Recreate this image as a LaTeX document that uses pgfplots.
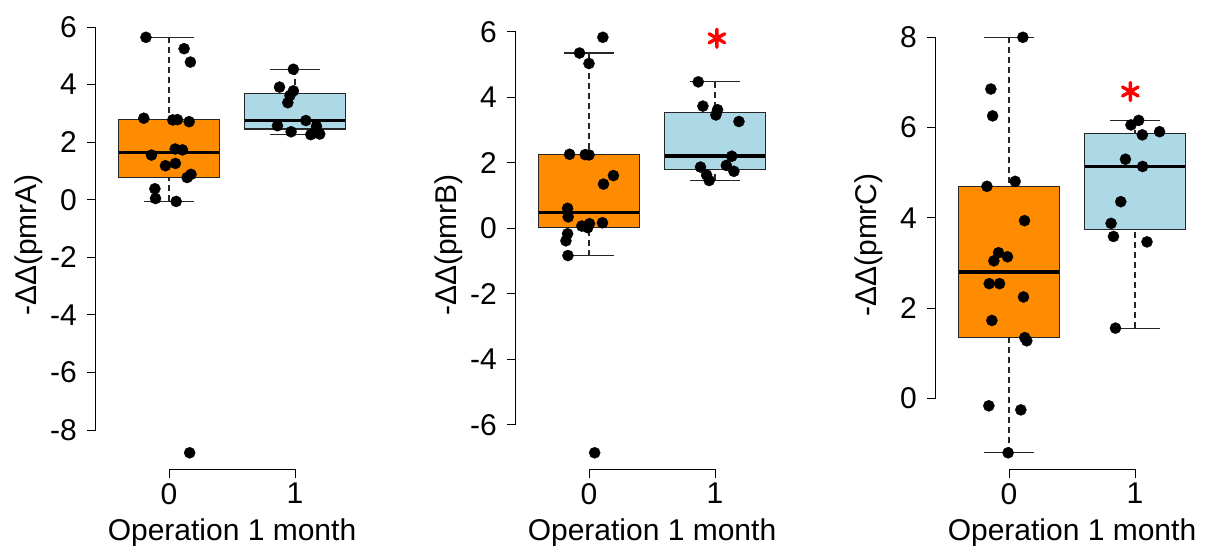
\documentclass[border=0pt]{standalone}
\usepackage{pgfplots}
\pgfplotsset{compat=1.18}
\usepgfplotslibrary{statistics}
\usepackage{fontspec}
\setmainfont{Liberation Sans}

\definecolor{boxorange}{HTML}{FF8C00}
\definecolor{boxblue}{HTML}{ADD8E6}
\definecolor{edge}{HTML}{262626}

\tikzset{
  axisline/.style={black, line width=0.9pt},
  whiskerline/.style={edge, line width=1.1pt},
}

\pgfplotsset{
  rpanel/.style={
    scale only axis, width=272.2pt, height=448.7pt, anchor=south west,
    xmin=-0.58, xmax=1.58,
    axis x line*=bottom, axis y line*=left,
    axis line style={draw=none},
    tick align=outside, major tick length=9pt,
    tick style={black, line width=0.9pt},
    xtick={0,1}, xticklabels={0,1},
    font=\fontsize{30}{36}\selectfont,
    xticklabel style={anchor=north, inner sep=0pt, yshift=-4.5pt},
    yticklabel style={anchor=east, inner sep=0pt, xshift=-10pt},
    xlabel={Operation 1 month},
    xlabel style={at={([yshift=-70.6pt]axis description cs:0.5,0)}, anchor=base, inner sep=0pt},
    ylabel style={at={([xshift=-67.5pt]axis description cs:0,0.5)}, anchor=center, inner sep=0pt},
    clip=false,
    boxplot/draw direction=y,
    boxplot/box extend=0.8,
    boxplot/whisker extend=0.4,
    boxplot/every box/.style={draw=edge, line width=1.1pt},
    boxplot/every median/.style={black, line width=3.6pt},
    boxplot/draw/lower whisker/.code={%
      \draw[whiskerline, dash pattern=on 6pt off 4pt]
        (boxplot box cs:\pgfplotsboxplotvalue{lower whisker},0.5) --
        (boxplot box cs:\pgfplotsboxplotvalue{lower quartile},0.5);
      \draw[whiskerline]
        (boxplot whisker cs:\pgfplotsboxplotvalue{lower whisker},0) --
        (boxplot whisker cs:\pgfplotsboxplotvalue{lower whisker},1);
    },
    boxplot/draw/upper whisker/.code={%
      \draw[whiskerline, dash pattern=on 6pt off 4pt]
        (boxplot box cs:\pgfplotsboxplotvalue{upper whisker},0.5) --
        (boxplot box cs:\pgfplotsboxplotvalue{upper quartile},0.5);
      \draw[whiskerline]
        (boxplot whisker cs:\pgfplotsboxplotvalue{upper whisker},0) --
        (boxplot whisker cs:\pgfplotsboxplotvalue{upper whisker},1);
    },
  },
  dots/.style={only marks, mark=*, mark size=5.6pt,
    mark options={fill=black, draw=black, line width=0.3pt}},
  signif/.style={only marks, mark=asterisk, mark size=9pt, red,
    mark options={line width=3.4pt, line cap=round}},
}

% jittered observations, group 0 at x=0 and group 1 at x=1
\pgfplotstableread{
x y
-0.183 5.64
0.120 5.245
0.170 4.78
-0.200 2.83
0.030 2.77
0.067 2.78
0.160 2.71
-0.139 1.55
0.049 1.76
0.107 1.73
-0.028 1.18
0.051 1.26
0.175 0.88
0.144 0.77
-0.112 0.38
-0.107 0.04
0.057 -0.06
0.164 -8.79
0.987 4.53
0.877 3.91
0.987 3.78
0.960 3.62
0.943 3.37
1.086 2.75
0.861 2.57
1.170 2.55
0.969 2.36
1.125 2.26
1.196 2.28
}\pmrA

\pgfplotstableread{
x y
0.110 5.83
-0.075 5.35
0.000 5.03
-0.154 2.26
-0.030 2.25
0.000 2.24
0.194 1.61
0.115 1.35
-0.170 0.61
-0.165 0.35
-0.057 0.07
0.004 0.14
-0.010 0.02
0.107 0.17
-0.170 -0.165
-0.183 -0.38
-0.167 -0.83
0.045 -6.85
0.867 4.47
0.904 3.73
1.020 3.62
1.007 3.46
1.190 3.26
1.133 2.20
0.885 1.87
1.090 1.92
1.150 1.74
0.933 1.63
0.954 1.46
}\pmrB

\pgfplotstableread{
x y
0.110 8.00
-0.144 6.855
-0.130 6.26
-0.175 4.70
0.049 4.81
0.123 3.94
-0.083 3.23
-0.012 3.14
-0.120 3.05
-0.157 2.545
-0.075 2.545
0.115 2.25
-0.136 1.73
0.125 1.35
0.141 1.28
-0.160 -0.16
0.094 -0.25
-0.007 -1.20
1.029 6.16
0.968 6.06
1.058 5.84
1.195 5.91
0.924 5.30
1.060 5.14
0.887 4.36
0.810 3.88
0.829 3.59
1.095 3.47
0.845 1.56
}\pmrC

\begin{document}
\begin{tikzpicture}

% pmrA
\begin{axis}[rpanel, at={(95.9pt,76.6pt)}, ymin=-9.367, ymax=6.217,
  ytick={-8,-6,-4,-2,0,2,4,6}, yticklabels={-8,-6,-4,-2,0,2,4,6},
  ylabel={-ΔΔ(pmrA)}]
  \draw[axisline] (axis cs:0,-9.367) -- (axis cs:1,-9.367);
  \draw[axisline] (axis cs:-0.58,-8) -- (axis cs:-0.58,6);
  \addplot[boxplot prepared={draw position=0, lower whisker=-0.06,
    lower quartile=0.77, median=1.64, upper quartile=2.78, upper whisker=5.64},
    boxplot/every box/.append style={fill=boxorange}] coordinates {};
  \addplot[boxplot prepared={draw position=1, lower whisker=2.26,
    lower quartile=2.455, median=2.75, upper quartile=3.70, upper whisker=4.53},
    boxplot/every box/.append style={fill=boxblue}] coordinates {};
  \addplot[dots] table[x=x, y=y] {\pmrA};
\end{axis}

% pmrB
\begin{axis}[rpanel, at={(515.9pt,76.6pt)}, ymin=-7.357, ymax=6.337,
  ytick={-6,-4,-2,0,2,4,6}, yticklabels={-6,-4,-2,0,2,4,6},
  ylabel={-ΔΔ(pmrB)}]
  \draw[axisline] (axis cs:0,-7.357) -- (axis cs:1,-7.357);
  \draw[axisline] (axis cs:-0.58,-6) -- (axis cs:-0.58,6);
  \addplot[boxplot prepared={draw position=0, lower whisker=-0.83,
    lower quartile=0.02, median=0.48, upper quartile=2.25, upper whisker=5.35},
    boxplot/every box/.append style={fill=boxorange}] coordinates {};
  \addplot[boxplot prepared={draw position=1, lower whisker=1.46,
    lower quartile=1.805, median=2.20, upper quartile=3.54, upper whisker=4.47},
    boxplot/every box/.append style={fill=boxblue}] coordinates {};
  \addplot[dots] table[x=x, y=y] {\pmrB};
  \addplot[signif] coordinates {(1.015,5.80)};
\end{axis}

% pmrC
\begin{axis}[rpanel, at={(935.9pt,76.6pt)}, ymin=-1.568, ymax=8.368,
  ytick={0,2,4,6,8}, yticklabels={0,2,4,6,8},
  ylabel={-ΔΔ(pmrC)}]
  \draw[axisline] (axis cs:0,-1.568) -- (axis cs:1,-1.568);
  \draw[axisline] (axis cs:-0.58,0) -- (axis cs:-0.58,8);
  \addplot[boxplot prepared={draw position=0, lower whisker=-1.20,
    lower quartile=1.35, median=2.80, upper quartile=4.70, upper whisker=8.00},
    boxplot/every box/.append style={fill=boxorange}] coordinates {};
  \addplot[boxplot prepared={draw position=1, lower whisker=1.56,
    lower quartile=3.735, median=5.14, upper quartile=5.875, upper whisker=6.16},
    boxplot/every box/.append style={fill=boxblue}] coordinates {};
  \addplot[dots] table[x=x, y=y] {\pmrC};
  \addplot[signif] coordinates {(0.963,6.80)};
\end{axis}

\pgfresetboundingbox
\path[use as bounding box] (0pt,0pt) rectangle (1210pt,546pt);
\end{tikzpicture}
\end{document}
